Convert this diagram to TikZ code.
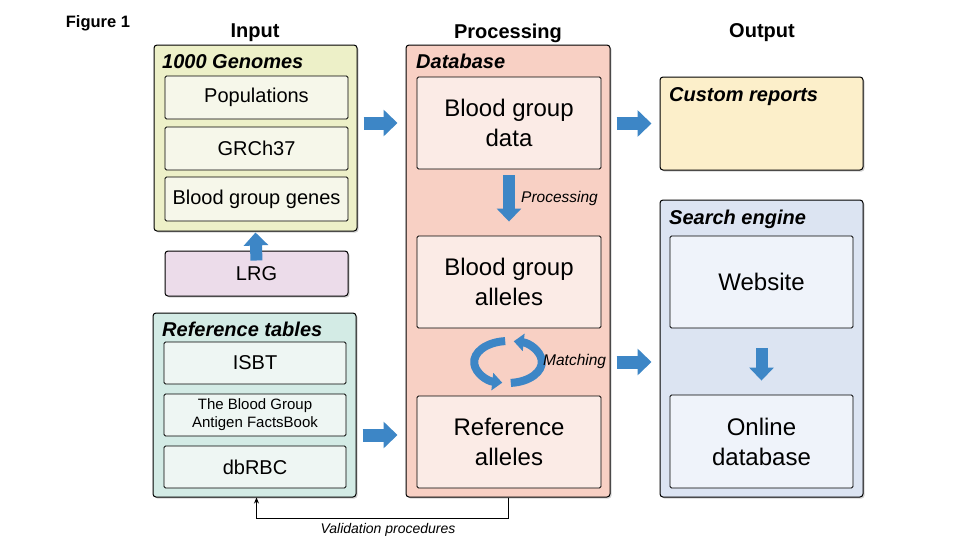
\documentclass[tikz,border=0pt]{standalone}
\usepackage{fontspec}
\setmainfont{Liberation Sans}
\usetikzlibrary{arrows.meta,shadows}
\definecolor{genfill}{HTML}{EDF0C8}
\definecolor{geninner}{HTML}{F6F7EA}
\definecolor{lrgfill}{HTML}{ECDCEA}
\definecolor{reffill}{HTML}{D3EBE5}
\definecolor{refinner}{HTML}{EEF6F3}
\definecolor{dbfill}{HTML}{F8D0C4}
\definecolor{dbinner}{HTML}{FBEBE6}
\definecolor{custfill}{HTML}{FCEFCA}
\definecolor{srchfill}{HTML}{DCE4F2}
\definecolor{srchinner}{HTML}{EFF3FA}
\definecolor{ablue}{HTML}{3D86C6}
\begin{document}
\begin{tikzpicture}[x=1pt,y=-1pt,
  outer/.style={draw=black, line width=1pt, rounded corners=3pt, inner sep=0pt,
    drop shadow={shadow xshift=1.5pt, shadow yshift=-1.5pt, opacity=0.35}},
  inbox/.style={draw=black, line width=0.9pt, rounded corners=1.5pt, inner sep=0pt, align=center},
  ttl/.style={anchor=north west, inner sep=0pt, font=\fontsize{20}{23}\selectfont\bfseries\itshape},
  hdr/.style={font=\fontsize{20}{23}\selectfont\bfseries},
  medtxt/.style={font=\fontsize{20}{23}\selectfont},
  bigtxt/.style={font=\fontsize{24}{30}\selectfont},
  smltxt/.style={font=\fontsize{15}{18}\selectfont},
  itl/.style={font=\fontsize{15.5}{18}\selectfont\itshape, inner sep=0pt},
  barrow/.style={line width=13pt, draw=ablue, -{Triangle[length=14pt,width=26pt]}},
  darrow/.style={line width=12pt, draw=ablue, -{Triangle[length=13pt,width=24pt]}},
  carrow/.style={line width=8pt, draw=ablue, -{Triangle[length=10pt,width=17pt]}}
]
\useasboundingbox[fill=white] (0,0) rectangle (959,539);

% headers
\node[font=\fontsize{16.5}{19}\selectfont\bfseries] (fig) at (98,23) {Figure 1};
\node[hdr] (hin) at (255,33) {Input};
\node[hdr] (hproc) at (508,33) {Processing};
\node[hdr] (hout) at (762,33) {Output};

% outer boxes
\node[outer, fill=genfill, minimum width=203pt, minimum height=186pt] (genomes) at (255.5,138) {};
\node[outer, fill=lrgfill, minimum width=183pt, minimum height=45pt, medtxt] (lrg) at (256.5,273.5) {LRG};
\node[outer, fill=reffill, minimum width=203pt, minimum height=184pt] (refs) at (254.5,405) {};
\node[outer, fill=dbfill, minimum width=204pt, minimum height=452pt] (db) at (508,271) {};
\node[outer, fill=custfill, minimum width=203pt, minimum height=93pt] (custom) at (761.5,123.5) {};
\node[outer, fill=srchfill, minimum width=203pt, minimum height=297pt] (search) at (761.5,348.5) {};

% titles
\node[ttl] (tgen) at (162,54) {1000 Genomes};
\node[ttl] (tref) at (162,322) {Reference tables};
\node[ttl] (tdb) at (416,54) {Database};
\node[ttl] (tcust) at (669,87) {Custom reports};
\node[ttl] (tsrch) at (669,210) {Search engine};

% inner boxes: input
\node[inbox, fill=geninner, minimum width=183pt, minimum height=43pt, medtxt] (pop) at (256.5,97.5) {Populations};
\node[inbox, fill=geninner, minimum width=183pt, minimum height=43pt, medtxt] (grc) at (256.5,148.5) {GRCh37};
\node[inbox, fill=geninner, minimum width=183pt, minimum height=44pt, medtxt] (bgg) at (256.5,199) {Blood group genes};
\node[inbox, fill=refinner, minimum width=182pt, minimum height=42pt, medtxt] (isbt) at (255,363) {ISBT};
\node[inbox, fill=refinner, minimum width=182pt, minimum height=42pt, smltxt] (fb) at (255,415) {The Blood Group\\Antigen FactsBook};
\node[inbox, fill=refinner, minimum width=182pt, minimum height=42pt, medtxt] (dbrbc) at (255,467) {dbRBC};

% inner boxes: processing
\node[inbox, fill=dbinner, minimum width=184pt, minimum height=92pt, bigtxt] (bgd) at (509,123) {Blood group\\data};
\node[inbox, fill=dbinner, minimum width=184pt, minimum height=92pt, bigtxt] (bga) at (509,282) {Blood group\\alleles};
\node[inbox, fill=dbinner, minimum width=184pt, minimum height=92pt, bigtxt] (refal) at (509,442) {Reference\\alleles};

% inner boxes: output
\node[inbox, fill=srchinner, minimum width=183pt, minimum height=92pt, bigtxt] (web) at (761.5,282) {Website};
\node[inbox, fill=srchinner, minimum width=183pt, minimum height=93pt, bigtxt] (onl) at (761.5,441.5) {Online\\database};

% block arrows
\draw[darrow] ([yshift=-10pt]lrg.north) -- ([yshift=-1pt]genomes.south);
\draw[barrow] ([xshift=6pt]genomes.east |- bgd.center) -- ([xshift=-8pt]db.west |- bgd.center);
\draw[barrow] ([xshift=6pt]db.east |- custom.center) -- ([xshift=-8pt]custom.west);
\coordinate (cyc) at (508,362);
\draw[barrow] ([xshift=6pt]db.east |- cyc) -- ([xshift=-8pt]search.west |- cyc);
\draw[barrow] ([xshift=6pt,yshift=7pt]refs.east |- refal.center) -- ([xshift=-8pt,yshift=7pt]db.west |- refal.center);
\draw[darrow] ([yshift=-6pt]bgd.south) -- ([yshift=14pt]bga.north);
\draw[darrow] ([yshift=-20pt]web.south) -- ([yshift=14pt]onl.north);

% cycle arrows
\draw[carrow] (505.2,341.1) arc[start angle=265, end angle=100, x radius=34, y radius=21];
\draw[carrow] (510.8,382.9) arc[start angle=85, end angle=-80, x radius=34, y radius=21];

% labels
\node[itl, anchor=west] (lproc) at (521,198) {Processing};
\node[itl, anchor=west] (lmatch) at (543,361) {Matching};

% validation
\draw[line width=0.8pt, -{Stealth[length=6pt,width=5pt]}] (db.south) -- ++(0,21) coordinate (vb) -| ([xshift=2pt]refs.south);
\node[font=\fontsize{14}{16}\selectfont\itshape] (lval) at (388,530) {Validation procedures};
\end{tikzpicture}
\end{document}
